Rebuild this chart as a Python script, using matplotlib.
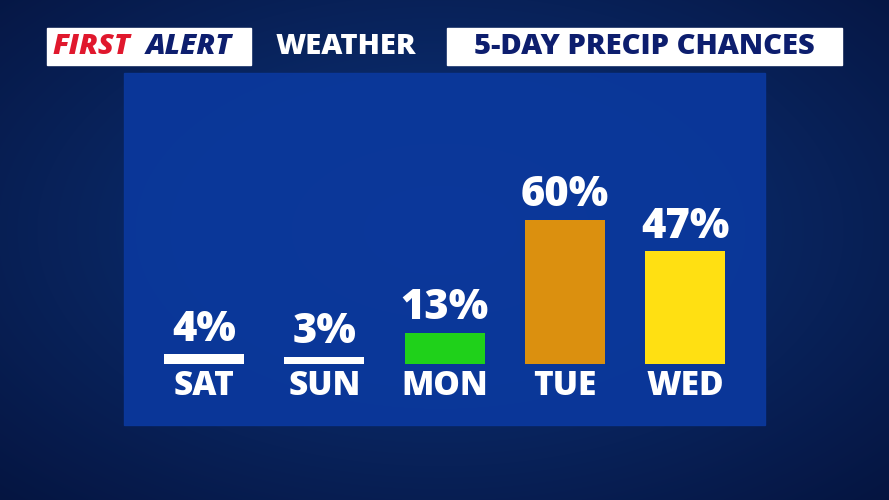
import matplotlib
matplotlib.use("Agg")
import matplotlib.pyplot as plt
from matplotlib.patches import Rectangle
import numpy as np

days = ["SAT", "SUN", "MON", "TUE", "WED"]
chances = [4, 3, 13, 60, 47]
colors = ["#ffffff", "#ffffff", "#1fd11a", "#db900f", "#ffe012"]

W, H = 889, 500
fig = plt.figure(figsize=(W / 100, H / 100), dpi=100)
plt.rcParams['font.family'] = ['Open Sans', 'DejaVu Sans']

# background in pixel coordinates
bg = fig.add_axes([0, 0, 1, 1])
bg.set_xlim(0, W)
bg.set_ylim(H, 0)
bg.axis("off")
yy, xx = np.mgrid[0:H, 0:W]
shade = np.clip(1 - np.hypot((xx - 440) / 650, (yy - 230) / 380), 0, 1)
img = np.zeros((H, W, 3))
img[..., 0] = 0.02 + 0.03 * shade
img[..., 1] = 0.08 + 0.13 * shade
img[..., 2] = 0.25 + 0.25 * shade
bg.imshow(img, extent=(0, W, H, 0), aspect="auto")
bg.add_patch(Rectangle((124, 73), 641, 352, color="#0b389c", alpha=0.95))

# title bar
bg.add_patch(Rectangle((47, 28), 204, 37, color="white"))
bg.add_patch(Rectangle((447, 28), 395, 37, color="white"))
bg.text(53, 47, "FIRST", color="#e0182d", fontsize=21, fontweight="heavy",
        fontstyle="italic", va="center", ha="left")
bg.text(146, 47, "ALERT", color="#0d1e6e", fontsize=21, fontweight="heavy",
        fontstyle="italic", va="center", ha="left")
bg.text(346, 47, "WEATHER", color="white", fontsize=21, fontweight="heavy",
        va="center", ha="center")
bg.text(644, 47, "5-DAY PRECIP CHANCES", color="#0d1e6e", fontsize=21,
        fontweight="heavy", va="center", ha="center")

# bars: baseline at y=364px, 2.4 px per percent
spacing = 120.25
left = 124 / W
bottom = (H - 364) / H
ax = fig.add_axes([left, bottom, 641 / W, (364 - 73) / H])
ax.set_xlim(-80 / spacing, 4 + 80 / spacing)
ax.set_ylim(0, (364 - 73) / 2.4)
ax.axis("off")
x = np.arange(len(days))
ax.bar(x, chances, width=80 / spacing, color=colors)
for xi, v in zip(x, chances):
    ax.text(xi, v + 1.5, f"{v}%", color="white", fontsize=30, fontweight="heavy",
            ha="center", va="bottom")
for xi, d in zip(x, days):
    ax.text(xi, -2, d, color="white", fontsize=24, fontweight="heavy",
            ha="center", va="top", clip_on=False)

fig.savefig("out.png", dpi=100)
